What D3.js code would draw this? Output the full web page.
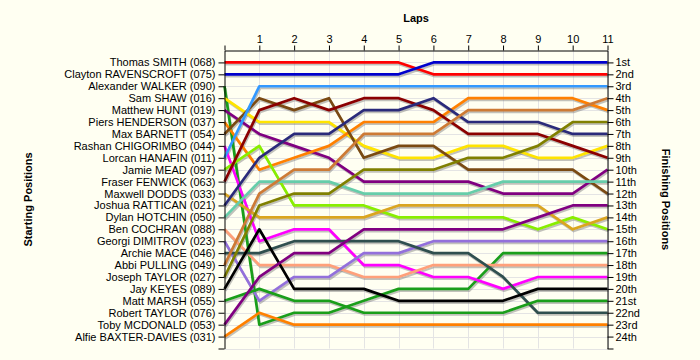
<!DOCTYPE html>
<html><head><meta charset="utf-8">
<script src="https://cdn.jsdelivr.net/npm/d3@7"></script>
<style>
html,body{margin:0;padding:0;background:#FFFFF2;}
svg{display:block;font-family:"Liberation Sans",Arial,sans-serif;}
</style></head>
<body><svg id="c" width="700" height="360"></svg>
<script>
const laps = [0,1,2,3,4,5,6,7,8,9,10,11];
const startNames = ["Thomas SMITH (068)","Clayton RAVENSCROFT (075)","Alexander WALKER (090)","Sam SHAW (016)","Matthew HUNT (019)","Piers HENDERSON (037)","Max BARNETT (054)","Rashan CHIGORIMBO (044)","Lorcan HANAFIN (011)","Jamie MEAD (097)","Fraser FENWICK (063)","Maxwell DODDS (033)","Joshua RATTICAN (021)","Dylan HOTCHIN (050)","Ben COCHRAN (088)","Georgi DIMITROV (023)","Archie MACE (046)","Abbi PULLING (049)","Joseph TAYLOR (027)","Jay KEYES (089)","Matt MARSH (055)","Robert TAYLOR (076)","Toby MCDONALD (053)","Alfie BAXTER-DAVIES (031)"];
const finishLabels = ["1st","2nd","3rd","4th","5th","6th","7th","8th","9th","10th","11th","12th","13th","14th","15th","16th","17th","18th","19th","20th","21st","22nd","23rd","24th"];
// position at each lap (lap 0 = start), one row per driver in start order
const lapPositions = [
  [1,1,1,1,1,1,2,2,2,2,2,2],
  [2,2,2,2,2,2,1,1,1,1,1,1],
  [3,23,22,22,21,20,20,20,17,17,17,17],
  [4,6,6,6,8,9,9,8,8,9,9,8],
  [5,7,8,9,11,11,11,11,12,12,12,10],
  [6,10,9,8,6,6,6,4,4,4,4,5],
  [7,4,5,4,9,8,8,10,10,10,10,12],
  [8,16,15,15,18,18,19,19,20,19,19,19],
  [9,3,3,3,3,3,3,3,3,3,3,3],
  [10,8,13,13,13,14,14,14,14,15,14,15],
  [11,5,4,5,4,4,5,7,7,7,8,9],
  [12,14,14,14,14,13,13,13,13,13,15,14],
  [13,9,7,7,5,5,4,6,6,6,7,7],
  [14,11,11,11,12,12,12,12,11,11,11,11],
  [15,18,18,18,19,19,18,18,18,18,18,18],
  [16,21,19,19,17,17,16,16,16,16,16,16],
  [17,17,16,16,16,16,17,17,19,22,22,22],
  [18,12,10,10,7,7,7,5,5,5,5,4],
  [19,13,12,12,10,10,10,9,9,8,6,6],
  [20,15,20,20,20,21,21,21,21,20,20,20],
  [21,20,21,21,22,22,22,22,22,21,21,21],
  null,
  [23,19,17,17,15,15,15,15,15,14,13,13],
  [24,22,23,23,23,23,23,23,23,23,23,23]
];
const palette = ["#FF0000","#0000CC","#1A9E1A","#FFE400","#800080","#FF8000","#7A4A12","#FF00FF","#3399FF","#88EE00","#8B0000","#DAA520","#2A2A7A","#66CDAA","#FFA07A","#9370DB","#2F4F4F","#CD7A35","#808000","#000000","#1A9E1A","#999999","#800080","#FF8000"];

const svg = d3.select("#c");
const x = d3.scaleLinear().domain([0,11]).range([224.5,607.5]);
const y = d3.scaleLinear().domain([0,25]).range([50.5,348.5]);
const posTicks = d3.range(1,26);

// grid
const g = svg.append("g");
g.selectAll("line.v").data(laps.slice(1)).join("line")
  .attr("x1",d=>Math.round(x(d))+0.5).attr("x2",d=>Math.round(x(d))+0.5)
  .attr("y1",y(0)).attr("y2",y(25)).attr("stroke","#E4E4E4").attr("stroke-width",1);
g.selectAll("line.h").data(posTicks).join("line")
  .attr("x1",x(0)).attr("x2",x(11))
  .attr("y1",d=>Math.round(y(d))+0.5).attr("y2",d=>Math.round(y(d))+0.5)
  .attr("stroke","#E4E4E4").attr("stroke-width",1);

const series = lapPositions.map((p,i)=>({p,i})).filter(d=>d.p);
const line = d3.line().x((d,i)=>x(laps[i])).y(d=>y(d));

// shadows
svg.append("g").attr("transform","translate(1,2)").selectAll("path").data(series).join("path")
  .attr("d",d=>line(d.p)).attr("fill","none").attr("stroke","#777").attr("stroke-opacity",0.45)
  .attr("stroke-width",2.2).attr("stroke-linejoin","round");
// lines
svg.append("g").selectAll("path").data(series).join("path")
  .attr("d",d=>line(d.p)).attr("fill","none").attr("stroke",d=>palette[d.i])
  .attr("stroke-width",2.7).attr("stroke-linejoin","round");

// axes
const axTop = svg.append("g").attr("transform",`translate(0,${y(0)})`)
  .call(d3.axisTop(x).tickValues(laps).tickFormat(d=>d===0?"":d).tickSize(5).tickSizeOuter(0));
const axLeft = svg.append("g").attr("transform",`translate(${x(0)},0)`)
  .call(d3.axisLeft(y).tickValues(posTicks).tickFormat(d=>startNames[d-1]||"").tickSize(6).tickSizeOuter(0));
const axRight = svg.append("g").attr("transform",`translate(${x(11)},0)`)
  .call(d3.axisRight(y).tickValues(posTicks).tickFormat(d=>finishLabels[d-1]||"").tickSize(6).tickSizeOuter(0));
[axTop,axLeft,axRight].forEach(a=>{
  a.selectAll("text").attr("font-size",11).attr("fill","#000").attr("font-family","'Liberation Sans',Arial,sans-serif");
  a.selectAll("line,path").attr("stroke","#000");
});
axLeft.selectAll(".tick text").attr("x",-9);
axRight.selectAll(".tick text").attr("x",8);
axTop.selectAll(".tick text").attr("y",-8);

// titles
svg.append("text").attr("x",x(5.5)).attr("y",22).attr("text-anchor","middle")
  .attr("font-weight","bold").attr("font-size",11).text("Laps");
svg.append("text").attr("transform",`translate(32,${y(12.5)}) rotate(-90)`).attr("text-anchor","middle")
  .attr("font-weight","bold").attr("font-size",11).text("Starting Positions");
svg.append("text").attr("transform",`translate(662,${y(12.5)}) rotate(90)`).attr("text-anchor","middle")
  .attr("font-weight","bold").attr("font-size",11).text("Finishing Positions");
</script></body></html>
